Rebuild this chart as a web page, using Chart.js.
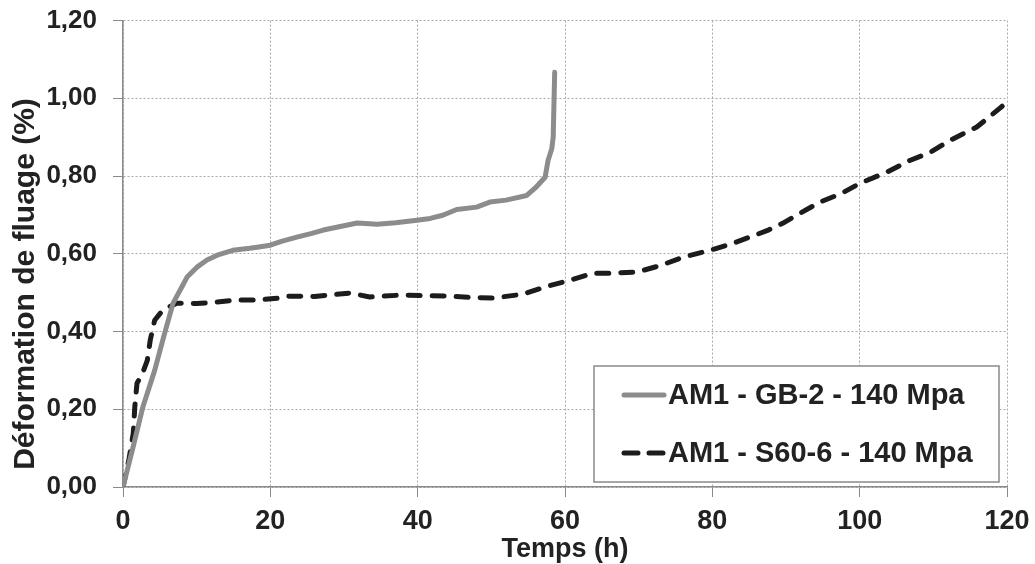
<!DOCTYPE html>
<html>
<head>
<meta charset="utf-8">
<script src="https://cdn.jsdelivr.net/npm/chart.js@4/dist/chart.umd.min.js"></script>
<style>
html,body{margin:0;padding:0;background:#fff;}
#wrap{width:1035px;height:564px;position:relative;}
</style>
</head>
<body>
<div id="wrap"><canvas id="c" width="1035" height="564"></canvas></div>
<script>
// ---- Data ----
const gbLabel = "AM1 - GB-2 - 140 Mpa";
const gbTime = [0, 1.4, 2.7, 4.3, 5.5, 6.8, 8.0, 8.7, 10, 11.4, 13, 14.9, 17.2, 18.2, 20, 21.5, 23.6, 25.5, 27.2, 29.5, 31.8, 34.5, 37, 39.9, 41.7, 43.4, 45.3, 48, 49.8, 52, 54.8, 56, 57.3, 57.7, 58.2, 58.4, 58.6];
const gbStrain = [0, 0.105, 0.206, 0.3, 0.385, 0.473, 0.515, 0.54, 0.565, 0.584, 0.598, 0.609, 0.614, 0.617, 0.622, 0.632, 0.643, 0.652, 0.661, 0.67, 0.679, 0.676, 0.68, 0.686, 0.691, 0.699, 0.714, 0.72, 0.733, 0.738, 0.75, 0.77, 0.797, 0.84, 0.87, 0.90, 1.067];

const s60Label = "AM1 - S60-6 - 140 Mpa";
const s60Time = [0, 0.8, 1.4, 1.6, 1.9, 2.6, 3.3, 3.7, 4.3, 5.4, 7.3, 10, 12.8, 15.5, 18, 21.3, 22.3, 26, 30.8, 33.5, 38, 41, 44.4, 47, 50.2, 54.3, 57.7, 60.7, 63.8, 66.1, 69.8, 73, 76, 79.7, 82.5, 85.1, 87.5, 89.6, 91.9, 94.6, 97.5, 100, 103.7, 106.8, 109.5, 112.3, 115.9, 119, 120];
const s60Strain = [0, 0.07, 0.139, 0.206, 0.267, 0.29, 0.326, 0.378, 0.429, 0.455, 0.473, 0.472, 0.476, 0.481, 0.481, 0.486, 0.491, 0.49, 0.499, 0.489, 0.494, 0.492, 0.491, 0.488, 0.486, 0.496, 0.517, 0.532, 0.55, 0.55, 0.553, 0.57, 0.591, 0.609, 0.625, 0.643, 0.66, 0.679, 0.704, 0.733, 0.755, 0.781, 0.81, 0.84, 0.86, 0.892, 0.926, 0.974, 0.99];

const xTicks = [0, 20, 40, 60, 80, 100, 120];
const yTicks = [0, 0.2, 0.4, 0.6, 0.8, 1.0, 1.2];
const xTitle = "Temps (h)";
const yTitle = "Déformation de fluage (%)";

const toPts = (xs, ys) => xs.map((x, i) => ({x: x, y: ys[i]}));

const FONT = "'Liberation Sans', Arial, sans-serif";

// Legend drawn inside the plot area, plus the y-axis title
const insideLegend = {
  id: 'insideLegend',
  afterDatasetsDraw(chart) {
    const ctx = chart.ctx;
    const a = chart.chartArea;
    const bx = a.right - 413, by = a.bottom - 121, bw = 405, bh = 116;
    ctx.save();
    ctx.fillStyle = '#fff';
    ctx.fillRect(bx, by, bw, bh);
    ctx.strokeStyle = '#8a8a8a';
    ctx.lineWidth = 1.5;
    ctx.strokeRect(bx, by, bw, bh);
    ctx.font = "bold 29px " + FONT;
    ctx.textBaseline = 'middle';
    chart.data.datasets.forEach((ds, i) => {
      const y = by + 29 + i * 58;
      ctx.beginPath();
      ctx.strokeStyle = ds.borderColor;
      ctx.lineWidth = ds.borderWidth;
      ctx.setLineDash(i === 1 ? [14, 11] : []);
      ctx.lineCap = 'round';
      ctx.moveTo(bx + 30, y);
      ctx.lineTo(bx + 70, y);
      ctx.stroke();
      ctx.setLineDash([]);
      ctx.fillStyle = '#222';
      ctx.fillText(ds.label, bx + 74, y + 1);
    });
    ctx.restore();
  },
  afterDraw(chart) {
    const ctx = chart.ctx;
    ctx.save();
    ctx.translate(26, 284);
    ctx.rotate(-Math.PI / 2);
    ctx.font = "bold 30px " + FONT;
    ctx.fillStyle = '#222';
    ctx.textAlign = 'center';
    ctx.textBaseline = 'middle';
    ctx.fillText(yTitle, 0, 0);
    ctx.restore();
  }
};

new Chart(document.getElementById('c'), {
  type: 'line',
  data: {
    datasets: [
      {
        label: gbLabel,
        data: toPts(gbTime, gbStrain),
        borderColor: '#8c8c8c',
        borderWidth: 5,
        borderCapStyle: 'round',
        borderJoinStyle: 'round',
        pointRadius: 0,
        tension: 0,
        fill: false
      },
      {
        label: s60Label,
        data: toPts(s60Time, s60Strain),
        borderColor: '#1c1c1c',
        borderWidth: 5,
        borderDash: [12, 12],
        borderCapStyle: 'round',
        borderJoinStyle: 'round',
        pointRadius: 0,
        tension: 0,
        fill: false
      }
    ]
  },
  options: {
    responsive: false,
    animation: false,
    devicePixelRatio: 1,
    layout: {padding: {top: 0, right: 28, bottom: 0, left: 0}},
    plugins: {
      legend: {display: false},
      tooltip: {enabled: false}
    },
    scales: {
      x: {
        type: 'linear',
        min: 0, max: 120,
        afterBuildTicks: s => { s.ticks = xTicks.map(v => ({value: v})); },
        afterFit: s => { s.height = 77; s.paddingRight = 0; s.paddingLeft = 0; },
        ticks: {
          color: '#222',
          font: {family: FONT, size: 27, weight: 'bold'},
          padding: 8,
          maxRotation: 0,
          callback: v => String(v)
        },
        grid: {color: '#a8a8a8', lineWidth: 1, tickLength: 10, tickColor: '#8a8a8a'},
        border: {color: '#8a8a8a', width: 1.5, dash: [2, 2]},
        title: {
          display: true, text: xTitle, color: '#222',
          font: {family: FONT, size: 27, weight: 'bold', lineHeight: 1.1},
          padding: {top: 0, bottom: 0}
        }
      },
      y: {
        type: 'linear',
        min: 0, max: 1.2,
        afterBuildTicks: s => { s.ticks = yTicks.map(v => ({value: v})); },
        afterFit: s => { s.width = 123; },
        ticks: {
          color: '#222',
          font: {family: FONT, size: 26, weight: 'bold', lineHeight: 0.35},
          padding: 16,
          callback: v => v.toFixed(2).replace('.', ',')
        },
        grid: {color: '#a8a8a8', lineWidth: 1, tickLength: 10, tickColor: '#8a8a8a'},
        border: {color: '#8a8a8a', width: 1.5, dash: [2, 2]},
        title: {display: false}
      }
    }
  },
  plugins: [insideLegend]
});
</script>
</body>
</html>
